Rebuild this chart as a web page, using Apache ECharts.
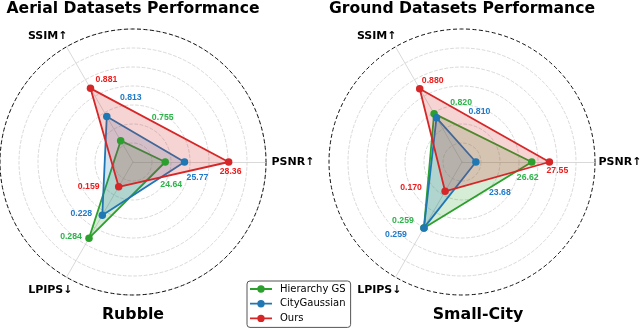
<!DOCTYPE html>
<html><head><meta charset="utf-8">
<script src="https://cdn.jsdelivr.net/npm/echarts@6/dist/echarts.min.js"></script>
<style>html,body{margin:0;padding:0;background:#fff}#c{width:640px;height:330px}</style>
</head><body><div id="c"></div>
<script>
// ---- data ----
const metrics = ['PSNR↑', 'SSIM↑', 'LPIPS↓'];
const methods = ['Hierarchy GS', 'CityGaussian', 'Ours'];
const panelTitles = ['Aerial Datasets Performance', 'Ground Datasets Performance'];
const datasetNames = ['Rubble', 'Small-City'];
// values per method: [PSNR, SSIM, LPIPS]
const rubbleHierarchy = [24.64, 0.755, 0.284];
const rubbleCity = [25.77, 0.813, 0.228];
const rubbleOurs = [28.36, 0.881, 0.159];
const smallCityHierarchy = [26.62, 0.820, 0.259];
const smallCityCity = [23.68, 0.810, 0.259];
const smallCityOurs = [27.55, 0.880, 0.170];
// radial ranges of each metric axis
const rubbleAxisMin = [22.75, 0.7036, 0.0988];
const rubbleAxisMax = [30.55, 0.981, 0.3787];
const smallCityAxisMin = [22.95, 0.7036, 0.0988];
const smallCityAxisMax = [29.95, 0.981, 0.3787];

// ---- layout / style ----
const panelValues = [[rubbleHierarchy, rubbleCity, rubbleOurs], [smallCityHierarchy, smallCityCity, smallCityOurs]];
const panelMin = [rubbleAxisMin, smallCityAxisMin];
const panelMax = [rubbleAxisMax, smallCityAxisMax];
const panels = [{cx: 133, cy: 162, r: 133, titleX: 133, subX: 133, psnrDx: 5.5}, {cx: 462, cy: 162, r: 133, titleX: 462, subX: 478, psnrDx: 3.5}];
const lineColors = ['#2ca02c', '#1f77b4', '#d62728'];
const labelColors = ['#2db34a', '#1f7ac8', '#ee1c1c'];
// label offsets [dx, dy] from the marker, per panel / method / metric
const labelOffsets = [
  [[[6, 23], [42, -23], [-18, -2]], [[13, 16], [24, -19], [-21, -2]], [[2, 10], [16, -9], [-30, 0]]],
  [[[-4, 16], [27, -11], [-21, -7]], [[24, 31], [43, -6], [-28, 7]], [[8, 9], [13, -8], [-34, -4]]]
];
// axis-name placement relative to the axis end: [dx, dy, align]
const axisNamePlace = [[5, 0, 'left'], [1, -11, 'right'], [6, 13, 'right']];

function fmt(v) { return v > 1 ? v.toFixed(2) : v.toFixed(3); }

const radars = [];
panels.forEach((p, pi) => {
  radars.push({
    center: [p.cx, p.cy], radius: p.r, startAngle: 0, splitNumber: 7, shape: 'circle',
    indicator: metrics.map((m, k) => ({name: m, min: panelMin[pi][k], max: panelMax[pi][k]})),
    axisName: {show: false},
    axisLine: {lineStyle: {color: '#cfcfcf', width: 0.8}},
    axisTick: {show: false}, axisLabel: {show: false},
    splitArea: {show: false},
    splitLine: {lineStyle: {color: ['#cfcfcf', '#cfcfcf', '#cfcfcf', '#cfcfcf', '#cfcfcf', '#cfcfcf', '#cfcfcf', 'rgba(0,0,0,0)'], width: 0.8, type: [3.7, 1.6]}}
  });
});
panels.forEach((p, pi) => {
  radars.push({
    center: [p.cx, p.cy], radius: p.r, startAngle: 0, splitNumber: 1, shape: 'circle',
    indicator: metrics.map(() => ({name: '', min: 0, max: 1})),
    axisName: {show: false}, axisLine: {show: false}, axisTick: {show: false}, axisLabel: {show: false},
    splitArea: {show: false},
    splitLine: {lineStyle: {color: ['rgba(0,0,0,0)', '#111'], width: 1, type: [4, 2.5]}}
  });
});

const series = [];
panels.forEach((p, pi) => {
  methods.forEach((name, mi) => {
    const vals = panelValues[pi][mi];
    series.push({
      type: 'radar', radarIndex: pi, name: name,
      symbol: 'circle', symbolSize: 7.5,
      lineStyle: {width: 1.8, color: lineColors[mi]},
      itemStyle: {color: lineColors[mi]},
      areaStyle: {color: lineColors[mi], opacity: 0.2},
      label: {
        show: true, position: 'inside', color: labelColors[mi],
        fontSize: 8.7, fontWeight: 'bold', fontFamily: 'Liberation Sans',
        formatter: (params) => fmt(params.value)
      },
      labelLayout: (params) => {
        const k = vals.findIndex(v => fmt(v) === params.text);
        const off = labelOffsets[pi][mi][k < 0 ? 0 : k];
        return {dx: off[0], dy: off[1]};
      },
      emphasis: {disabled: true},
      data: [{name: name, value: vals}]
    });
  });
});

const graphics = [];
panels.forEach((p, pi) => {
  graphics.push({type: 'text', x: p.titleX, y: 9, style: {text: panelTitles[pi], fontSize: 15.6, fontWeight: 'bold', fontFamily: 'DejaVu Sans', fill: '#000', align: 'center', verticalAlign: 'middle'}});
  graphics.push({type: 'text', x: p.subX, y: 315, style: {text: datasetNames[pi], fontSize: 15.8, fontWeight: 'bold', fontFamily: 'DejaVu Sans', fill: '#000', align: 'center', verticalAlign: 'middle'}});
  metrics.forEach((m, k) => {
    const a = k * 2 * Math.PI / 3;
    const ex = p.cx + p.r * Math.cos(a), ey = p.cy - p.r * Math.sin(a);
    const pl = axisNamePlace[k];
    const dx = k === 0 ? p.psnrDx : pl[0];
    graphics.push({type: 'text', x: ex + dx, y: ey + pl[1], style: {text: m, fontSize: 11, fontWeight: 'bold', fontFamily: 'DejaVu Sans', fill: '#000', align: pl[2], verticalAlign: 'middle'}});
  });
});

const legendIcon = 'path://M0,4.1H22V5.9H0ZM14.7,5A3.7,3.7 0 1 1 7.3,5A3.7,3.7 0 1 1 14.7,5Z';

const chart = echarts.init(document.getElementById('c'), null, {renderer: 'canvas'});
chart.setOption({
  backgroundColor: '#fff',
  animation: false,
  radar: radars,
  series: series,
  graphic: graphics,
  legend: {
    orient: 'vertical', left: 247, top: 281, padding: [3, 5, 4, 3],
    itemWidth: 22, itemHeight: 10, itemGap: 4.7,
    borderColor: '#555', borderWidth: 1, borderRadius: 3, backgroundColor: '#fff',
    selectedMode: false,
    data: methods.map(n => ({name: n, icon: legendIcon})),
    textStyle: {fontSize: 10, fontFamily: 'DejaVu Sans', color: '#000', lineHeight: 10, padding: [0, 0, 0, 3]}
  }
});
</script></body></html>
